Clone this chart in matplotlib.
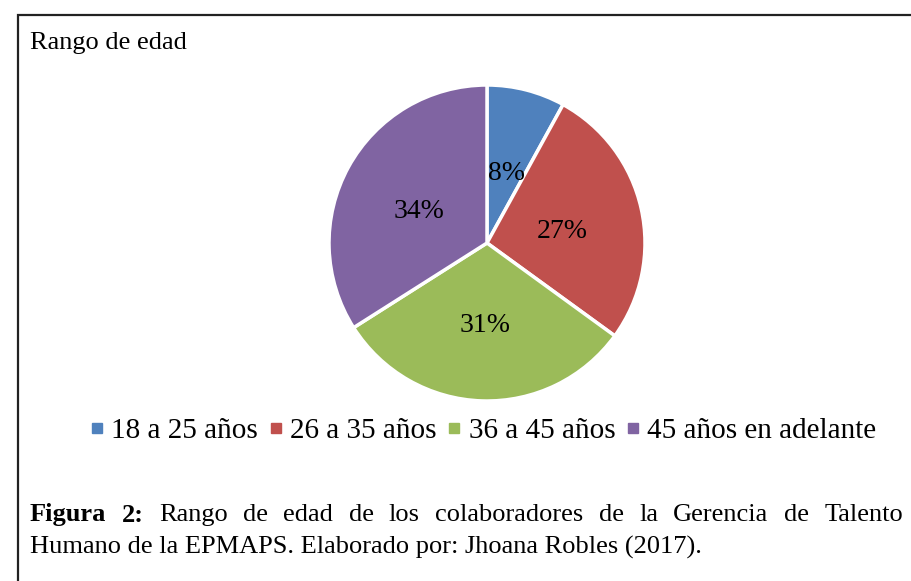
import matplotlib.pyplot as plt
from matplotlib.lines import Line2D
from matplotlib.patches import Rectangle

plt.rcParams['font.family'] = ['Liberation Serif', 'DejaVu Serif']

# data
categorias = ["18 a 25 años", "26 a 35 años", "36 a 45 años", "45 años en adelante"]
porcentajes = [8, 27, 31, 34]
colores = ["#4F81BD", "#C0504D", "#9BBB59", "#8064A2"]

titulo = "Rango de edad"
linea1_negrita = "Figura 2:"
linea1 = "Rango de edad de los colaboradores de la Gerencia de Talento"
linea2 = "Humano de la EPMAPS. Elaborado por: Jhoana Robles (2017)."

W, H = 912, 581
fig = plt.figure(figsize=(W / 100, H / 100), dpi=100)

# frame around the chart (runs off right and bottom edges)
fig.patches.append(Rectangle((18 / W, -0.1), 1.2, 1 - 15 / H + 0.1,
                             transform=fig.transFigure, fill=False,
                             edgecolor="#222222", linewidth=1.6))

# pie
cx, cy, r = 487, 243, 158
ax = fig.add_axes([(cx - r) / W, (H - cy - r) / H, 2 * r / W, 2 * r / H])
_, _, autotexts = ax.pie(porcentajes, colors=colores, startangle=90, counterclock=False,
                         autopct="%d%%", pctdistance=0.49,
                         wedgeprops=dict(edgecolor="white", linewidth=2.5),
                         textprops=dict(fontsize=20, color="black"))
for t in autotexts:
    x, y = t.get_position()
    t.set_position((x, y - 0.035))
ax.set_xlim(-1, 1)
ax.set_ylim(-1, 1)
ax.axis("off")

fig.text(30 / W, 1 - 43 / H, titulo, fontsize=19, va="center", ha="left")

# legend
handles = [Line2D([], [], marker="s", linestyle="none", markersize=6.5,
                  markerfacecolor=c, markeredgecolor=c) for c in colores]
fig.legend(handles, categorias, loc="center", bbox_to_anchor=(483 / W, 1 - 431 / H),
           ncol=4, frameon=False, fontsize=21, handlelength=0.5,
           handletextpad=0.25, columnspacing=0.35)

# caption, first line justified
fig.canvas.draw()
renderer = fig.canvas.get_renderer()
palabras = [(p, "bold") for p in linea1_negrita.split()]
palabras += [(p, "normal") for p in linea1.split()]
y1 = 1 - 515 / H
objs = []
for p, w in palabras:
    t = fig.text(0, y1, p, fontsize=19, fontweight=w, va="center", ha="left")
    objs.append(t)
anchos = [t.get_window_extent(renderer).width for t in objs]
x0, x1 = 30, 903
hueco = (x1 - x0 - sum(anchos)) / (len(objs) - 1)
x = x0
for t, a in zip(objs, anchos):
    t.set_x(x / W)
    x += a + hueco

fig.text(30 / W, 1 - 547 / H, linea2, fontsize=19, va="center", ha="left")

fig.savefig("out.png", dpi=100)
